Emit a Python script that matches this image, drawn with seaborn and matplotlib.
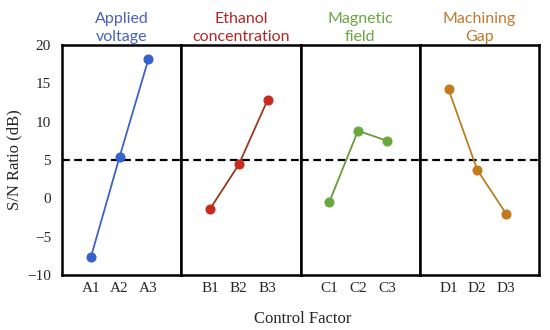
import pandas as pd
import matplotlib.pyplot as plt
import seaborn as sns

# S/N ratios per factor level
factors = ['Applied\nvoltage', 'Ethanol\nconcentration', 'Magnetic\nfield', 'Machining\nGap']
levels = [['A1', 'A2', 'A3'], ['B1', 'B2', 'B3'], ['C1', 'C2', 'C3'], ['D1', 'D2', 'D3']]
sn_a = [-7.7, 5.4, 18.1]
sn_b = [-1.4, 4.4, 12.8]
sn_c = [-0.5, 8.8, 7.5]
sn_d = [14.2, 3.7, -2.0]
mean_sn = 5.0

title_colors = ['#4a62b8', '#b82424', '#6aa544', '#c07a30']
line_colors = ['#3d62c4', '#963a20', '#6a9a3c', '#b88020']
dot_colors = ['#3562cc', '#c92a1e', '#6aa83e', '#c27a1c']

sns.set_style('white')
plt.rcParams['font.family'] = ['Liberation Serif', 'DejaVu Serif']

fig, axes = plt.subplots(1, 4, figsize=(5.5, 3.3), dpi=100, sharey=True)
fig.subplots_adjust(left=0.113, right=0.98, top=0.864, bottom=0.167, wspace=0)

for i, (ax, vals) in enumerate(zip(axes, [sn_a, sn_b, sn_c, sn_d])):
    df = pd.DataFrame({'pos': [1, 2, 3], 'sn': vals})
    sns.lineplot(data=df, x='pos', y='sn', ax=ax, color=line_colors[i], lw=1.3,
                 marker='o', markersize=6.5, markerfacecolor=dot_colors[i],
                 markeredgecolor=dot_colors[i])
    ax.axhline(mean_sn, color='black', lw=1.6, ls=(0, (3.5, 2)), zorder=1)
    ax.set_xlim(0, 4.15)
    ax.set_ylim(-10, 20)
    ax.set_xticks([1, 2, 3])
    ax.set_xticklabels(levels[i], fontsize=11)
    ax.set_xlabel('')
    ax.set_ylabel('')
    ax.tick_params(length=0, pad=5)
    for s in ax.spines.values():
        s.set_color('black')
        s.set_linewidth(1.8)
    ax.set_title(factors[i], color=title_colors[i], fontsize=11.5,
                 family=['Lato', 'DejaVu Sans'], linespacing=1.3, pad=3)

axes[0].set_yticks([-10, -5, 0, 5, 10, 15, 20])
axes[0].set_yticklabels(['\u221210', '\u22125', '0', '5', '10', '15', '20'], fontsize=11)
axes[0].tick_params(axis='y', pad=8)
axes[0].set_ylabel('S/N Ratio (dB)', fontsize=12)
axes[0].yaxis.set_label_coords(-0.33, 0.5)
fig.text(0.55, 0.022, 'Control Factor', ha='center', fontsize=12)

plt.savefig('out.png', dpi=100)
